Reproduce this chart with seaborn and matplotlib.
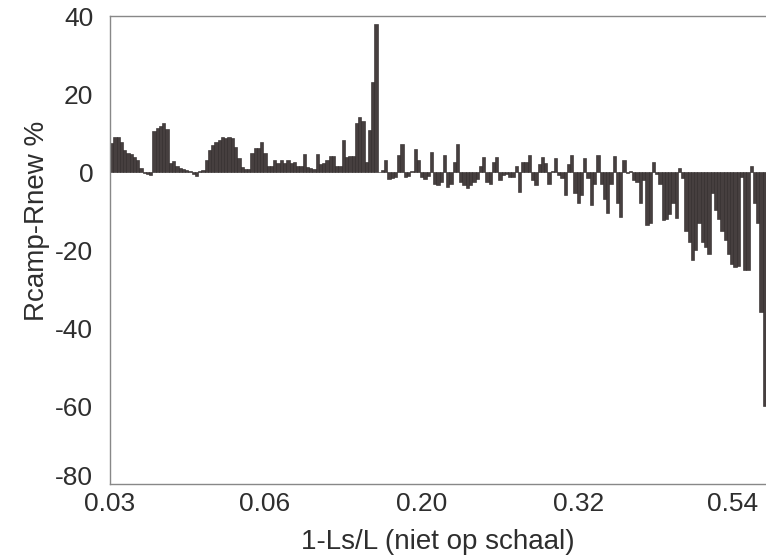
import numpy as np
import pandas as pd
import matplotlib
matplotlib.use("Agg")
import matplotlib.pyplot as plt
import matplotlib.transforms as mtransforms
import seaborn as sns

# Rcamp - Rnew (%) per case, left to right
diff_pct = [
    7.4, 9.1, 9.1, 7.8, 5.6, 4.8, 4.5, 3.9, 3.1, 1.0,
    -0.3, -0.5, -0.8, 10.5, 11.3, 11.8, 12.5, 11.0, 2.2, 2.7,
    1.5, 1.0, 0.8, 0.5, 0.3, -0.5, -1.0, 0.3, 0.5, 3.0,
    5.6, 6.8, 7.7, 8.2, 9.0, 8.7, 9.0, 8.8, 6.5, 3.5,
    1.3, 0.8, 0.8, 4.8, 6.1, 6.1, 7.8, 4.8, 1.5, 1.5,
    3.0, 2.3, 3.0, 2.3, 3.0, 2.3, 2.6, 1.5, 1.5, 4.6,
    1.3, 1.0, 0.8, 4.6, 2.0, 2.3, 3.0, 4.0, 4.0, 1.5,
    1.5, 8.2, 3.9, 4.0, 4.0, 12.5, 14.2, 13.0, 2.6, 10.8,
    23.0, 38.0, 0.0, 0.5, 3.0, -1.7, -1.5, -1.3, 4.3, 7.3,
    -1.3, -1.0, 0.3, 6.0, 3.0, -1.3, -1.7, -1.0, 5.2, -3.0,
    -3.4, -2.5, 4.3, -3.8, -3.0, 2.5, 7.3, -2.5, -3.4, -4.1,
    -3.4, -2.5, -1.7, 1.5, 3.8, -2.5, -3.0, 2.5, 3.8, -2.0,
    -0.8, -0.4, -1.3, -1.3, 1.5, -5.0, 2.5, 2.5, 4.3, -2.0,
    -3.3, 2.0, 3.8, 2.3, -3.0, 0.3, 3.5, -0.8, -1.5, -6.0,
    2.0, 4.3, -5.5, -8.0, -6.0, 3.5, -1.5, -8.5, -3.0, 4.3,
    -3.0, -7.0, -10.5, -3.0, 4.0, -8.0, -11.5, 3.0, -0.3, 0.3,
    -2.0, -2.5, -8.0, -2.0, -13.7, -13.0, 2.6, -0.5, -3.0, -12.4,
    -12.0, -10.7, -8.0, -11.9, 1.0, -1.5, -15.0, -17.9, -22.6, -20.0,
    -13.0, -18.0, -19.2, -20.9, -5.5, -9.8, -12.0, -15.0, -17.5, -20.9,
    -23.5, -24.3, -24.0, -1.3, -25.2, -25.0, 1.5, -8.0, -13.0, -36.0,
    -60.0,
]
tick_labels = ["0.03", "0.06", "0.20", "0.32", "0.54"]
tick_pos = [-0.5, 47, 95, 143, 190.3]
y_ticks = [-80, -60, -40, -20, 0, 20, 40]

df = pd.DataFrame({"case": np.arange(len(diff_pct)), "diff": diff_pct})

sns.set_style("white")
plt.rcParams["font.family"] = ["Liberation Sans", "DejaVu Sans"]

fig = plt.figure(figsize=(7.66, 5.6), dpi=100)
ax = fig.add_axes([0.1436, 0.1357, 0.8564, 0.8357])

sns.barplot(data=df, x="case", y="diff", native_scale=True, width=1.0,
            color="#463f3f", edgecolor="#2a2424", linewidth=0.4,
            saturation=1, ax=ax)

txt = "#2e2e2e"
ax.set_xlim(-0.5, len(diff_pct) - 0.5)
ax.set_ylim(-80, 40)
ax.set_yticks(y_ticks)
ax.set_yticklabels([str(v) for v in y_ticks], fontsize=19, color=txt)
ax.set_xticks(tick_pos)
ax.set_xticklabels(tick_labels, fontsize=19, color=txt)
ax.tick_params(axis="y", direction="out", length=5, width=0.8, color="#777777", pad=7)
ax.tick_params(axis="x", length=0, pad=6)

# the bottom y label sits a little higher, clear of the first x label
ylabs = ax.get_yticklabels()
ylabs[0].set_transform(ylabs[0].get_transform() +
                       mtransforms.ScaledTranslation(0, 6 / 72, fig.dpi_scale_trans))

for side in ["left", "top", "bottom"]:
    ax.spines[side].set_color("#888888")
    ax.spines[side].set_linewidth(1.0)
ax.spines["right"].set_visible(False)

ax.set_xlabel("1-Ls/L (niet op schaal)", fontsize=20, color=txt, labelpad=9)
ax.set_ylabel("Rcamp-Rnew %", fontsize=20, color=txt)
ax.yaxis.set_label_coords(-0.092, 0.562)

fig.savefig("out.png", dpi=100)
